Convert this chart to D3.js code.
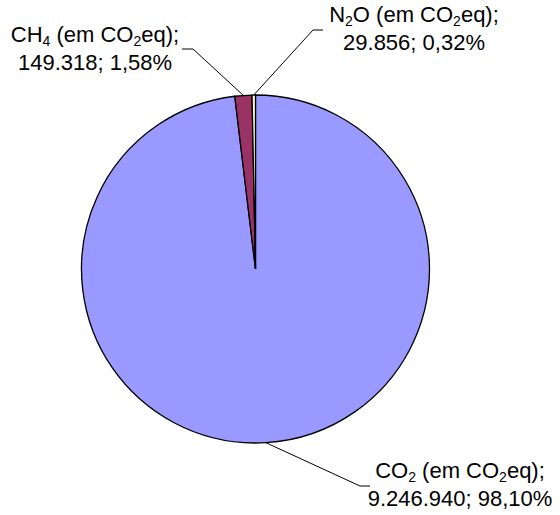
<!DOCTYPE html>
<html><head><meta charset="utf-8">
<script src="https://cdn.jsdelivr.net/npm/d3@7"></script>
<style>body{margin:0;background:#fff}svg{display:block}</style>
</head><body>
<svg id="c" width="560" height="515"></svg>
<script>
const gases = ["CO", "CH", "N"];
const gasSubs = ["2", "4", "2"];
const gasTails = ["", "", "O"];
const values = [9246940, 149318, 29856];
const colors = ["#9999FF", "#993366", "#FFFFCC"];

const loc = d3.formatLocale({decimal: ",", thousands: ".", grouping: [3], currency: ["R$", ""]});
const fmtVal = loc.format(",d");
const fmtPct = loc.format(".2f");

const svg = d3.select("#c");
const cx = 255.5, cy = 269, r = 174;
const total = d3.sum(values);
const pie = d3.pie().sort(null).value(d => d)(values);
const arc = d3.arc().innerRadius(0).outerRadius(r);

const g = svg.append("g").attr("transform", `translate(${cx},${cy})`);
g.selectAll("path").data(pie).join("path")
  .attr("d", arc)
  .attr("fill", (d, i) => colors[i])
  .attr("stroke", "#000").attr("stroke-width", 1.3);

// label layout (positions only)
const labelPos = [
  {x: 460, y1: 478, elbow: [360, 486], end: [370, 486]},
  {x: 95, y1: 42, elbow: [193, 49], end: [182, 49]},
  {x: 414, y1: 22, elbow: [313, 30], end: [323, 30]}
];

pie.forEach((d, i) => {
  const mid = (d.startAngle + d.endAngle) / 2;
  const px = cx + r * Math.sin(mid), py = cy - r * Math.cos(mid);
  const L = labelPos[i];
  svg.append("polyline")
    .attr("points", [[px, py], L.elbow, L.end].map(p => p.join(",")).join(" "))
    .attr("fill", "none").attr("stroke", "#000").attr("stroke-width", 1);
  const t = svg.append("text")
    .attr("font-family", "Liberation Sans, Arial, sans-serif")
    .attr("font-size", 22).attr("fill", "#000").attr("text-anchor", "middle");
  const l1 = t.append("tspan").attr("x", L.x).attr("y", L.y1);
  l1.append("tspan").text(gases[i]);
  l1.append("tspan").attr("font-size", 14).attr("dy", 4).text(gasSubs[i]);
  l1.append("tspan").attr("dy", -4).text(gasTails[i] + " (em CO");
  l1.append("tspan").attr("font-size", 14).attr("dy", 4).text("2");
  l1.append("tspan").attr("dy", -4).text("eq);");
  t.append("tspan").attr("x", L.x).attr("y", L.y1 + 28)
    .text(fmtVal(values[i]) + "; " + fmtPct(values[i] / total * 100) + "%");
});
</script>
</body></html>
